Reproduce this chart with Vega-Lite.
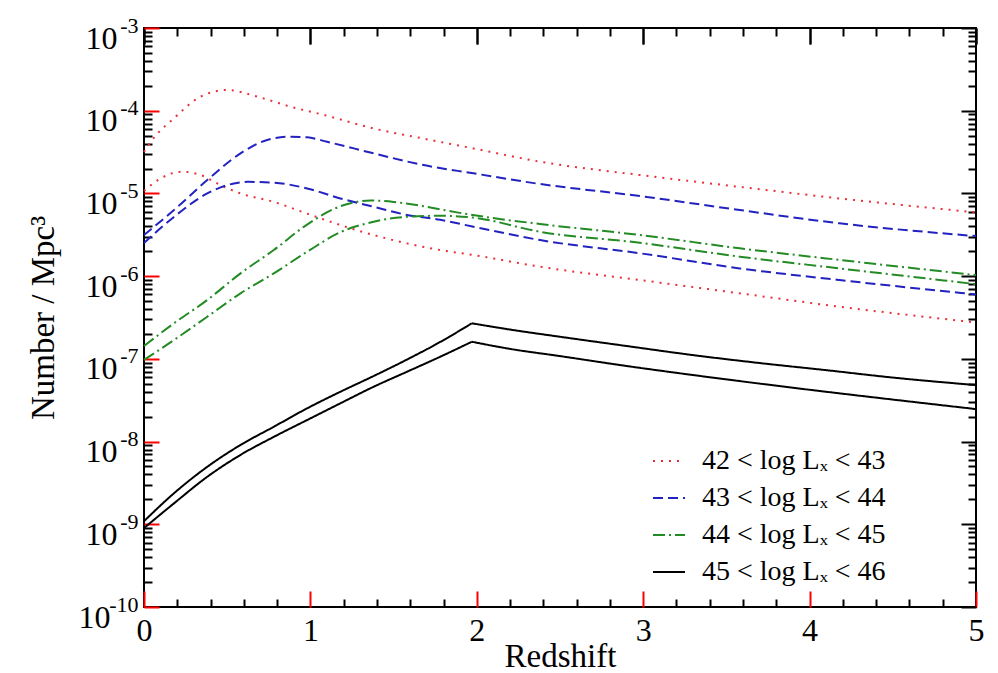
{
  "$schema": "https://vega.github.io/schema/vega-lite/v6.json",
  "width": 832,
  "height": 579,
  "autosize": {"type": "none"},
  "padding": {"left": 144, "top": 28, "right": 22, "bottom": 66},
  "background": "white",
  "config": {
    "view": {"stroke": "black", "strokeWidth": 2},
    "font": "Liberation Serif"
  },
  "data": {
    "values": [
      {"band": "42 < log Lₓ < 43", "curve": "r1", "z": 0, "n": 3.17e-5},
      {"band": "42 < log Lₓ < 43", "curve": "r1", "z": 0.04, "n": 4.2e-5},
      {"band": "42 < log Lₓ < 43", "curve": "r1", "z": 0.18, "n": 8.1e-5},
      {"band": "42 < log Lₓ < 43", "curve": "r1", "z": 0.34, "n": 1.48e-4},
      {"band": "42 < log Lₓ < 43", "curve": "r1", "z": 0.5, "n": 1.78e-4},
      {"band": "42 < log Lₓ < 43", "curve": "r1", "z": 0.68, "n": 1.48e-4},
      {"band": "42 < log Lₓ < 43", "curve": "r1", "z": 0.88, "n": 1.12e-4},
      {"band": "42 < log Lₓ < 43", "curve": "r1", "z": 1.08, "n": 8.9e-5},
      {"band": "42 < log Lₓ < 43", "curve": "r1", "z": 1.38, "n": 6.1e-5},
      {"band": "42 < log Lₓ < 43", "curve": "r1", "z": 1.68, "n": 4.6e-5},
      {"band": "42 < log Lₓ < 43", "curve": "r1", "z": 1.98, "n": 3.5e-5},
      {"band": "42 < log Lₓ < 43", "curve": "r1", "z": 2.38, "n": 2.42e-5},
      {"band": "42 < log Lₓ < 43", "curve": "r1", "z": 2.98, "n": 1.67e-5},
      {"band": "42 < log Lₓ < 43", "curve": "r1", "z": 3.58, "n": 1.2e-5},
      {"band": "42 < log Lₓ < 43", "curve": "r1", "z": 4.18, "n": 8.7e-6},
      {"band": "42 < log Lₓ < 43", "curve": "r1", "z": 5, "n": 5.9e-6},

      {"band": "42 < log Lₓ < 43", "curve": "r2", "z": 0, "n": 1.07e-5},
      {"band": "42 < log Lₓ < 43", "curve": "r2", "z": 0.1, "n": 1.52e-5},
      {"band": "42 < log Lₓ < 43", "curve": "r2", "z": 0.23, "n": 1.83e-5},
      {"band": "42 < log Lₓ < 43", "curve": "r2", "z": 0.34, "n": 1.67e-5},
      {"band": "42 < log Lₓ < 43", "curve": "r2", "z": 0.46, "n": 1.26e-5},
      {"band": "42 < log Lₓ < 43", "curve": "r2", "z": 0.58, "n": 1.0e-5},
      {"band": "42 < log Lₓ < 43", "curve": "r2", "z": 0.78, "n": 7.9e-6},
      {"band": "42 < log Lₓ < 43", "curve": "r2", "z": 0.98, "n": 5.7e-6},
      {"band": "42 < log Lₓ < 43", "curve": "r2", "z": 1.18, "n": 4.15e-6},
      {"band": "42 < log Lₓ < 43", "curve": "r2", "z": 1.38, "n": 3.14e-6},
      {"band": "42 < log Lₓ < 43", "curve": "r2", "z": 1.58, "n": 2.49e-6},
      {"band": "42 < log Lₓ < 43", "curve": "r2", "z": 1.78, "n": 2.07e-6},
      {"band": "42 < log Lₓ < 43", "curve": "r2", "z": 1.98, "n": 1.8e-6},
      {"band": "42 < log Lₓ < 43", "curve": "r2", "z": 2.38, "n": 1.3e-6},
      {"band": "42 < log Lₓ < 43", "curve": "r2", "z": 2.98, "n": 8.97e-7},
      {"band": "42 < log Lₓ < 43", "curve": "r2", "z": 3.58, "n": 6.2e-7},
      {"band": "42 < log Lₓ < 43", "curve": "r2", "z": 4.18, "n": 4.27e-7},
      {"band": "42 < log Lₓ < 43", "curve": "r2", "z": 5, "n": 2.75e-7},

      {"band": "43 < log Lₓ < 44", "curve": "b1", "z": 0, "n": 3.14e-6},
      {"band": "43 < log Lₓ < 44", "curve": "b1", "z": 0.18, "n": 6.3e-6},
      {"band": "43 < log Lₓ < 44", "curve": "b1", "z": 0.38, "n": 1.45e-5},
      {"band": "43 < log Lₓ < 44", "curve": "b1", "z": 0.58, "n": 3.05e-5},
      {"band": "43 < log Lₓ < 44", "curve": "b1", "z": 0.74, "n": 4.43e-5},
      {"band": "43 < log Lₓ < 44", "curve": "b1", "z": 0.88, "n": 4.85e-5},
      {"band": "43 < log Lₓ < 44", "curve": "b1", "z": 0.98, "n": 4.77e-5},
      {"band": "43 < log Lₓ < 44", "curve": "b1", "z": 1.1, "n": 4.21e-5},
      {"band": "43 < log Lₓ < 44", "curve": "b1", "z": 1.38, "n": 3.05e-5},
      {"band": "43 < log Lₓ < 44", "curve": "b1", "z": 1.68, "n": 2.2e-5},
      {"band": "43 < log Lₓ < 44", "curve": "b1", "z": 1.98, "n": 1.75e-5},
      {"band": "43 < log Lₓ < 44", "curve": "b1", "z": 2.38, "n": 1.3e-5},
      {"band": "43 < log Lₓ < 44", "curve": "b1", "z": 2.98, "n": 9.3e-6},
      {"band": "43 < log Lₓ < 44", "curve": "b1", "z": 3.58, "n": 6.3e-6},
      {"band": "43 < log Lₓ < 44", "curve": "b1", "z": 4.18, "n": 4.35e-6},
      {"band": "43 < log Lₓ < 44", "curve": "b1", "z": 5, "n": 3.05e-6},

      {"band": "43 < log Lₓ < 44", "curve": "b2", "z": 0, "n": 2.51e-6},
      {"band": "43 < log Lₓ < 44", "curve": "b2", "z": 0.18, "n": 5.2e-6},
      {"band": "43 < log Lₓ < 44", "curve": "b2", "z": 0.38, "n": 1.0e-5},
      {"band": "43 < log Lₓ < 44", "curve": "b2", "z": 0.54, "n": 1.32e-5},
      {"band": "43 < log Lₓ < 44", "curve": "b2", "z": 0.62, "n": 1.38e-5},
      {"band": "43 < log Lₓ < 44", "curve": "b2", "z": 0.78, "n": 1.35e-5},
      {"band": "43 < log Lₓ < 44", "curve": "b2", "z": 0.98, "n": 1.15e-5},
      {"band": "43 < log Lₓ < 44", "curve": "b2", "z": 1.18, "n": 8.7e-6},
      {"band": "43 < log Lₓ < 44", "curve": "b2", "z": 1.38, "n": 6.9e-6},
      {"band": "43 < log Lₓ < 44", "curve": "b2", "z": 1.58, "n": 5.5e-6},
      {"band": "43 < log Lₓ < 44", "curve": "b2", "z": 1.78, "n": 4.8e-6},
      {"band": "43 < log Lₓ < 44", "curve": "b2", "z": 1.98, "n": 3.96e-6},
      {"band": "43 < log Lₓ < 44", "curve": "b2", "z": 2.38, "n": 2.73e-6},
      {"band": "43 < log Lₓ < 44", "curve": "b2", "z": 2.98, "n": 1.89e-6},
      {"band": "43 < log Lₓ < 44", "curve": "b2", "z": 3.58, "n": 1.24e-6},
      {"band": "43 < log Lₓ < 44", "curve": "b2", "z": 4.18, "n": 8.97e-7},
      {"band": "43 < log Lₓ < 44", "curve": "b2", "z": 5, "n": 6.0e-7},

      {"band": "44 < log Lₓ < 45", "curve": "g1", "z": 0, "n": 1.43e-7},
      {"band": "44 < log Lₓ < 45", "curve": "g1", "z": 0.18, "n": 2.69e-7},
      {"band": "44 < log Lₓ < 45", "curve": "g1", "z": 0.38, "n": 5.14e-7},
      {"band": "44 < log Lₓ < 45", "curve": "g1", "z": 0.58, "n": 1.08e-6},
      {"band": "44 < log Lₓ < 45", "curve": "g1", "z": 0.78, "n": 2.07e-6},
      {"band": "44 < log Lₓ < 45", "curve": "g1", "z": 0.98, "n": 4.2e-6},
      {"band": "44 < log Lₓ < 45", "curve": "g1", "z": 1.18, "n": 7.0e-6},
      {"band": "44 < log Lₓ < 45", "curve": "g1", "z": 1.36, "n": 8.2e-6},
      {"band": "44 < log Lₓ < 45", "curve": "g1", "z": 1.5, "n": 7.9e-6},
      {"band": "44 < log Lₓ < 45", "curve": "g1", "z": 1.68, "n": 7.0e-6},
      {"band": "44 < log Lₓ < 45", "curve": "g1", "z": 1.88, "n": 5.9e-6},
      {"band": "44 < log Lₓ < 45", "curve": "g1", "z": 2.08, "n": 5.1e-6},
      {"band": "44 < log Lₓ < 45", "curve": "g1", "z": 2.38, "n": 4.27e-6},
      {"band": "44 < log Lₓ < 45", "curve": "g1", "z": 2.98, "n": 3.14e-6},
      {"band": "44 < log Lₓ < 45", "curve": "g1", "z": 3.58, "n": 2.17e-6},
      {"band": "44 < log Lₓ < 45", "curve": "g1", "z": 4.18, "n": 1.57e-6},
      {"band": "44 < log Lₓ < 45", "curve": "g1", "z": 5, "n": 1.03e-6},

      {"band": "44 < log Lₓ < 45", "curve": "g2", "z": 0, "n": 9.7e-8},
      {"band": "44 < log Lₓ < 45", "curve": "g2", "z": 0.18, "n": 1.69e-7},
      {"band": "44 < log Lₓ < 45", "curve": "g2", "z": 0.38, "n": 3.23e-7},
      {"band": "44 < log Lₓ < 45", "curve": "g2", "z": 0.58, "n": 6.2e-7},
      {"band": "44 < log Lₓ < 45", "curve": "g2", "z": 0.78, "n": 1.08e-6},
      {"band": "44 < log Lₓ < 45", "curve": "g2", "z": 0.98, "n": 1.97e-6},
      {"band": "44 < log Lₓ < 45", "curve": "g2", "z": 1.18, "n": 3.4e-6},
      {"band": "44 < log Lₓ < 45", "curve": "g2", "z": 1.38, "n": 4.55e-6},
      {"band": "44 < log Lₓ < 45", "curve": "g2", "z": 1.58, "n": 5.22e-6},
      {"band": "44 < log Lₓ < 45", "curve": "g2", "z": 1.78, "n": 5.37e-6},
      {"band": "44 < log Lₓ < 45", "curve": "g2", "z": 1.98, "n": 5.1e-6},
      {"band": "44 < log Lₓ < 45", "curve": "g2", "z": 2.38, "n": 3.44e-6},
      {"band": "44 < log Lₓ < 45", "curve": "g2", "z": 2.98, "n": 2.53e-6},
      {"band": "44 < log Lₓ < 45", "curve": "g2", "z": 3.58, "n": 1.72e-6},
      {"band": "44 < log Lₓ < 45", "curve": "g2", "z": 4.18, "n": 1.24e-6},
      {"band": "44 < log Lₓ < 45", "curve": "g2", "z": 5, "n": 8.0e-7},

      {"band": "45 < log Lₓ < 46", "curve": "k1 rise", "z": 0, "n": 1.09e-9},
      {"band": "45 < log Lₓ < 46", "curve": "k1 rise", "z": 0.18, "n": 2.37e-9},
      {"band": "45 < log Lₓ < 46", "curve": "k1 rise", "z": 0.38, "n": 4.95e-9},
      {"band": "45 < log Lₓ < 46", "curve": "k1 rise", "z": 0.58, "n": 9.1e-9},
      {"band": "45 < log Lₓ < 46", "curve": "k1 rise", "z": 0.78, "n": 1.51e-8},
      {"band": "45 < log Lₓ < 46", "curve": "k1 rise", "z": 0.98, "n": 2.52e-8},
      {"band": "45 < log Lₓ < 46", "curve": "k1 rise", "z": 1.18, "n": 4.0e-8},
      {"band": "45 < log Lₓ < 46", "curve": "k1 rise", "z": 1.38, "n": 6.2e-8},
      {"band": "45 < log Lₓ < 46", "curve": "k1 rise", "z": 1.58, "n": 9.8e-8},
      {"band": "45 < log Lₓ < 46", "curve": "k1 rise", "z": 1.78, "n": 1.6e-7},
      {"band": "45 < log Lₓ < 46", "curve": "k1 rise", "z": 1.97, "n": 2.69e-7},
      {"band": "45 < log Lₓ < 46", "curve": "k1 fall", "z": 1.97, "n": 2.69e-7},
      {"band": "45 < log Lₓ < 46", "curve": "k1 fall", "z": 2.2, "n": 2.26e-7},
      {"band": "45 < log Lₓ < 46", "curve": "k1 fall", "z": 2.5, "n": 1.85e-7},
      {"band": "45 < log Lₓ < 46", "curve": "k1 fall", "z": 2.9, "n": 1.43e-7},
      {"band": "45 < log Lₓ < 46", "curve": "k1 fall", "z": 3.3, "n": 1.11e-7},
      {"band": "45 < log Lₓ < 46", "curve": "k1 fall", "z": 3.7, "n": 8.9e-8},
      {"band": "45 < log Lₓ < 46", "curve": "k1 fall", "z": 4.1, "n": 7.3e-8},
      {"band": "45 < log Lₓ < 46", "curve": "k1 fall", "z": 4.5, "n": 5.94e-8},
      {"band": "45 < log Lₓ < 46", "curve": "k1 fall", "z": 5, "n": 4.82e-8},

      {"band": "45 < log Lₓ < 46", "curve": "k2 rise", "z": 0, "n": 9.0e-10},
      {"band": "45 < log Lₓ < 46", "curve": "k2 rise", "z": 0.18, "n": 1.79e-9},
      {"band": "45 < log Lₓ < 46", "curve": "k2 rise", "z": 0.38, "n": 3.75e-9},
      {"band": "45 < log Lₓ < 46", "curve": "k2 rise", "z": 0.58, "n": 6.9e-9},
      {"band": "45 < log Lₓ < 46", "curve": "k2 rise", "z": 0.78, "n": 1.14e-8},
      {"band": "45 < log Lₓ < 46", "curve": "k2 rise", "z": 0.98, "n": 1.82e-8},
      {"band": "45 < log Lₓ < 46", "curve": "k2 rise", "z": 1.18, "n": 2.9e-8},
      {"band": "45 < log Lₓ < 46", "curve": "k2 rise", "z": 1.38, "n": 4.6e-8},
      {"band": "45 < log Lₓ < 46", "curve": "k2 rise", "z": 1.58, "n": 6.98e-8},
      {"band": "45 < log Lₓ < 46", "curve": "k2 rise", "z": 1.78, "n": 1.06e-7},
      {"band": "45 < log Lₓ < 46", "curve": "k2 rise", "z": 1.97, "n": 1.61e-7},
      {"band": "45 < log Lₓ < 46", "curve": "k2 fall", "z": 1.97, "n": 1.61e-7},
      {"band": "45 < log Lₓ < 46", "curve": "k2 fall", "z": 2.2, "n": 1.32e-7},
      {"band": "45 < log Lₓ < 46", "curve": "k2 fall", "z": 2.5, "n": 1.08e-7},
      {"band": "45 < log Lₓ < 46", "curve": "k2 fall", "z": 2.9, "n": 8.2e-8},
      {"band": "45 < log Lₓ < 46", "curve": "k2 fall", "z": 3.3, "n": 6.37e-8},
      {"band": "45 < log Lₓ < 46", "curve": "k2 fall", "z": 3.7, "n": 5.02e-8},
      {"band": "45 < log Lₓ < 46", "curve": "k2 fall", "z": 4.1, "n": 4.0e-8},
      {"band": "45 < log Lₓ < 46", "curve": "k2 fall", "z": 4.5, "n": 3.22e-8},
      {"band": "45 < log Lₓ < 46", "curve": "k2 fall", "z": 5, "n": 2.47e-8}
    ]
  },
  "layer": [
    {
      "mark": {"type": "line", "interpolate": "monotone", "strokeWidth": 2},
      "encoding": {
        "x": {
          "field": "z", "type": "quantitative",
          "scale": {"domain": [0, 5], "nice": false, "zero": false},
          "axis": {
            "orient": "bottom", "values": [0, 1, 2, 3, 4, 5], "format": "d",
            "domain": false, "grid": false, "labelFlush": false,
            "offset": -16, "tickSize": 16, "tickColor": "red", "tickWidth": 2,
            "labelFont": "Liberation Serif", "labelColor": "black", "labelFontSize": 32, "labelPadding": 8,
            "title": "Redshift", "titleFont": "Liberation Serif", "titleColor": "black",
            "titleFontWeight": "normal", "titleFontSize": 33, "titlePadding": -6
          }
        },
        "y": {
          "field": "n", "type": "quantitative",
          "scale": {"type": "log", "domain": [1e-10, 1e-3], "nice": false},
          "axis": {
            "orient": "left",
            "values": [1e-10, 1e-9, 1e-8, 1e-7, 1e-6, 1e-5, 1e-4, 1e-3],
            "domain": false, "grid": false,
            "offset": -15, "tickSize": 15, "tickColor": "red", "tickWidth": 2,
            "labelExpr": "'10'", "labelFont": "Liberation Serif", "labelColor": "black", "labelFontSize": 32,
            "labelPadding": {"condition": {"test": "datum.value < 5e-10", "value": 34}, "value": 27},
            "labelOffset": 10, "labelBaseline": "middle",
            "title": "Number / Mpc³", "titleFont": "Liberation Serif", "titleColor": "black",
            "titleFontWeight": "normal", "titleFontSize": 33, "titlePadding": 18
          }
        },
        "color": {
          "field": "band", "type": "nominal",
          "scale": {
            "domain": ["42 < log Lₓ < 43", "43 < log Lₓ < 44", "44 < log Lₓ < 45", "45 < log Lₓ < 46"],
            "range": ["#e8303a", "#2222c0", "#238b23", "#000000"]
          },
          "legend": {
            "orient": "none", "legendX": 508, "legendY": 416, "title": null, "padding": 0,
            "symbolType": "stroke", "symbolSize": 1024, "symbolStrokeWidth": 2,
            "labelFont": "Liberation Serif", "labelFontSize": 28, "labelColor": "black",
            "labelOffset": 16, "rowPadding": 6, "labelLimit": 400
          }
        },
        "strokeDash": {
          "field": "band", "type": "nominal",
          "scale": {
            "domain": ["42 < log Lₓ < 43", "43 < log Lₓ < 44", "44 < log Lₓ < 45", "45 < log Lₓ < 46"],
            "range": [[2, 6], [10, 5], [12, 4, 2, 4], [1, 0]]
          }
        },
        "detail": {"field": "curve"}
      }
    },
    {
      "mark": {"type": "point", "opacity": 0},
      "encoding": {
        "x": {
          "field": "z", "type": "quantitative",
          "axis": {
            "orient": "bottom",
            "values": [0.2, 0.4, 0.6, 0.8, 1.2, 1.4, 1.6, 1.8, 2.2, 2.4, 2.6, 2.8, 3.2, 3.4, 3.6, 3.8, 4.2, 4.4, 4.6, 4.8],
            "domain": false, "grid": false,
            "offset": -8, "tickSize": 8, "tickColor": "black", "tickWidth": 2, "labels": false, "title": null
          }
        },
        "y": {
          "field": "n", "type": "quantitative",
          "axis": {
            "orient": "left",
            "values": [1e-10, 1e-9, 1e-8, 1e-7, 1e-6, 1e-5, 1e-4, 1e-3],
            "domain": false, "grid": false, "ticks": false,
            "labelExpr": "'-' + round(-log(datum.value) / LN10)",
            "labelFont": "Liberation Serif", "labelColor": "black",
            "labelFontSize": 22, "labelPadding": 6, "labelOffset": -3, "labelBaseline": "middle",
            "title": null
          }
        }
      }
    },
    {
      "mark": {"type": "point", "opacity": 0},
      "encoding": {
        "x": {
          "field": "z", "type": "quantitative",
          "axis": {
            "orient": "top", "values": [0, 1, 2, 3, 4, 5],
            "domain": false, "grid": false,
            "offset": -16, "tickSize": 16, "tickColor": "black", "tickWidth": 2, "labels": false, "title": null
          }
        },
        "y": {
          "field": "n", "type": "quantitative",
          "axis": {
            "orient": "left",
            "values": [2e-10, 3e-10, 4e-10, 5e-10, 6e-10, 7e-10, 8e-10, 9e-10,
                       2e-9, 3e-9, 4e-9, 5e-9, 6e-9, 7e-9, 8e-9, 9e-9,
                       2e-8, 3e-8, 4e-8, 5e-8, 6e-8, 7e-8, 8e-8, 9e-8,
                       2e-7, 3e-7, 4e-7, 5e-7, 6e-7, 7e-7, 8e-7, 9e-7,
                       2e-6, 3e-6, 4e-6, 5e-6, 6e-6, 7e-6, 8e-6, 9e-6,
                       2e-5, 3e-5, 4e-5, 5e-5, 6e-5, 7e-5, 8e-5, 9e-5,
                       2e-4, 3e-4, 4e-4, 5e-4, 6e-4, 7e-4, 8e-4, 9e-4],
            "domain": false, "grid": false,
            "offset": -8, "tickSize": 8, "tickColor": "black", "tickWidth": 2, "labels": false, "title": null
          }
        }
      }
    },
    {
      "mark": {"type": "point", "opacity": 0},
      "encoding": {
        "x": {
          "field": "z", "type": "quantitative",
          "axis": {
            "orient": "top",
            "values": [0.2, 0.4, 0.6, 0.8, 1.2, 1.4, 1.6, 1.8, 2.2, 2.4, 2.6, 2.8, 3.2, 3.4, 3.6, 3.8, 4.2, 4.4, 4.6, 4.8],
            "domain": false, "grid": false,
            "offset": -8, "tickSize": 8, "tickColor": "black", "tickWidth": 2, "labels": false, "title": null
          }
        },
        "y": {
          "field": "n", "type": "quantitative",
          "axis": {
            "orient": "right",
            "values": [1e-10, 1e-9, 1e-8, 1e-7, 1e-6, 1e-5, 1e-4, 1e-3],
            "domain": false, "grid": false,
            "offset": -15, "tickSize": 15, "tickColor": "black", "tickWidth": 2, "labels": false, "title": null
          }
        }
      }
    },
    {
      "mark": {"type": "point", "opacity": 0},
      "encoding": {
        "x": {
          "field": "z", "type": "quantitative",
          "axis": {
            "orient": "top", "values": [0, 1, 2, 3, 4, 5],
            "domain": false, "grid": false,
            "offset": -16, "tickSize": 16, "tickColor": "black", "tickWidth": 2, "labels": false, "title": null
          }
        },
        "y": {
          "field": "n", "type": "quantitative",
          "axis": {
            "orient": "right",
            "values": [2e-10, 3e-10, 4e-10, 5e-10, 6e-10, 7e-10, 8e-10, 9e-10,
                       2e-9, 3e-9, 4e-9, 5e-9, 6e-9, 7e-9, 8e-9, 9e-9,
                       2e-8, 3e-8, 4e-8, 5e-8, 6e-8, 7e-8, 8e-8, 9e-8,
                       2e-7, 3e-7, 4e-7, 5e-7, 6e-7, 7e-7, 8e-7, 9e-7,
                       2e-6, 3e-6, 4e-6, 5e-6, 6e-6, 7e-6, 8e-6, 9e-6,
                       2e-5, 3e-5, 4e-5, 5e-5, 6e-5, 7e-5, 8e-5, 9e-5,
                       2e-4, 3e-4, 4e-4, 5e-4, 6e-4, 7e-4, 8e-4, 9e-4],
            "domain": false, "grid": false,
            "offset": -8, "tickSize": 8, "tickColor": "black", "tickWidth": 2, "labels": false, "title": null
          }
        }
      }
    }
  ],
  "resolve": {"axis": {"x": "independent", "y": "independent"}}
}
